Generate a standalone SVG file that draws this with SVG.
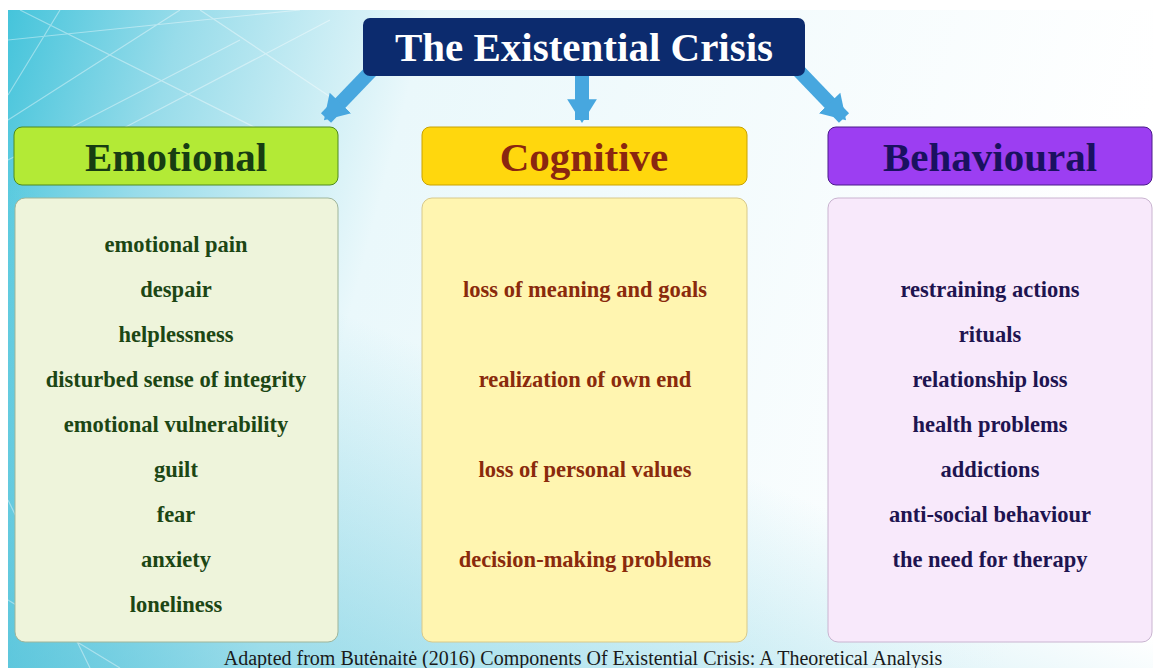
<svg xmlns="http://www.w3.org/2000/svg" width="1153" height="668" viewBox="0 0 1153 668">
<defs>
<linearGradient id="bg" x1="0" y1="0" x2="1" y2="0.15">
<stop offset="0" stop-color="#45c4db"/>
<stop offset="0.15" stop-color="#98dcea"/>
<stop offset="0.36" stop-color="#eaf8fb"/>
<stop offset="1" stop-color="#ffffff"/>
</linearGradient>
<linearGradient id="bg2" x1="0" y1="1" x2="0.35" y2="0.5">
<stop offset="0" stop-color="#2fb6d2" stop-opacity="0.55"/>
<stop offset="1" stop-color="#2fb6d2" stop-opacity="0"/>
</linearGradient>
<marker id="ah" viewBox="0 0 8 10" refX="7" refY="5" markerWidth="1.7" markerHeight="2.5" markerUnits="strokeWidth" orient="auto">
<path d="M0,0 L8,5 L0,10 z" fill="#47a7df"/>
</marker>
<style>
.hdr{font-family:"Liberation Serif","Times New Roman",serif;font-weight:bold;text-anchor:middle}
.item{font-family:"Liberation Serif","Times New Roman",serif;font-weight:bold;font-size:22.5px;text-anchor:middle}
.arrow{stroke:#47a7df;stroke-width:14;fill:none;marker-end:url(#ah)}
</style>
</defs>
<rect x="0" y="0" width="1153" height="668" fill="#ffffff"/>
<rect x="8" y="10" width="1145" height="658" fill="url(#bg)"/>
<rect x="8" y="10" width="1145" height="658" fill="url(#bg2)"/>
<g stroke="#ffffff" stroke-opacity="0.4" stroke-width="1.2" fill="none">
<path d="M8,40 L300,10 M20,10 L260,130 M8,120 L180,10 M60,10 L8,95 M120,130 L330,20 M8,160 L240,40 M200,10 L350,110 M8,600 L120,668 M8,500 L90,668"/>
</g>
<g id="connectors">
<path class="arrow" d="M374,68 L326,118"/>
<path class="arrow" d="M582,76 L582,120"/>
<path class="arrow" d="M796,68 L844,118"/>
</g>
<g id="title">
<rect x="363" y="18" width="442" height="58" rx="7" fill="#0c2b6e"/>
<text class="hdr" x="584" y="61" font-size="41" fill="#ffffff">The Existential Crisis</text>
</g>
<g id="emotional-header">
<rect x="14" y="127" width="324" height="58" rx="8" fill="#b3ea36" stroke="#4e8a1e" stroke-width="1"/>
<text class="hdr" x="176" y="171" font-size="41" fill="#173d12">Emotional</text>
</g>
<g id="cognitive-header">
<rect x="422" y="127" width="325" height="58" rx="8" fill="#ffd70d" stroke="#c9a200" stroke-width="1"/>
<text class="hdr" x="584" y="171" font-size="41" fill="#8a2610">Cognitive</text>
</g>
<g id="behavioural-header">
<rect x="828" y="127" width="324" height="58" rx="8" fill="#9c3ef2" stroke="#4a1a8a" stroke-width="1"/>
<text class="hdr" x="990" y="171" font-size="41" fill="#1a1160">Behavioural</text>
</g>
<g id="emotional-box">
<rect x="15" y="198" width="323" height="444" rx="10" fill="#eef4db" stroke="#9fb59a" stroke-width="1"/>
<g class="item" fill="#1c4614">
<text x="176" y="252">emotional pain</text>
<text x="176" y="297">despair</text>
<text x="176" y="342">helplessness</text>
<text x="176" y="387">disturbed sense of integrity</text>
<text x="176" y="432">emotional vulnerability</text>
<text x="176" y="477">guilt</text>
<text x="176" y="522">fear</text>
<text x="176" y="567">anxiety</text>
<text x="176" y="612">loneliness</text>
</g>
</g>
<g id="cognitive-box">
<rect x="422" y="198" width="325" height="444" rx="10" fill="#fff5b0" stroke="#d8c98a" stroke-width="1"/>
<g class="item" fill="#8a2a0c">
<text x="585" y="297">loss of meaning and goals</text>
<text x="585" y="387">realization of own end</text>
<text x="585" y="477">loss of personal values</text>
<text x="585" y="567">decision-making problems</text>
</g>
</g>
<g id="behavioural-box">
<rect x="828" y="198" width="324" height="444" rx="10" fill="#f8e9fb" stroke="#c9b4d0" stroke-width="1"/>
<g class="item" fill="#1e1450">
<text x="990" y="297">restraining actions</text>
<text x="990" y="342">rituals</text>
<text x="990" y="387">relationship loss</text>
<text x="990" y="432">health problems</text>
<text x="990" y="477">addictions</text>
<text x="990" y="522">anti-social behaviour</text>
<text x="990" y="567">the need for therapy</text>
</g>
</g>
<text x="583" y="665" font-family="'Liberation Serif','Times New Roman',serif" font-size="20" text-anchor="middle" fill="#1a1a1a">Adapted from Butėnaitė (2016) Components Of Existential Crisis: A Theoretical Analysis</text>
</svg>
